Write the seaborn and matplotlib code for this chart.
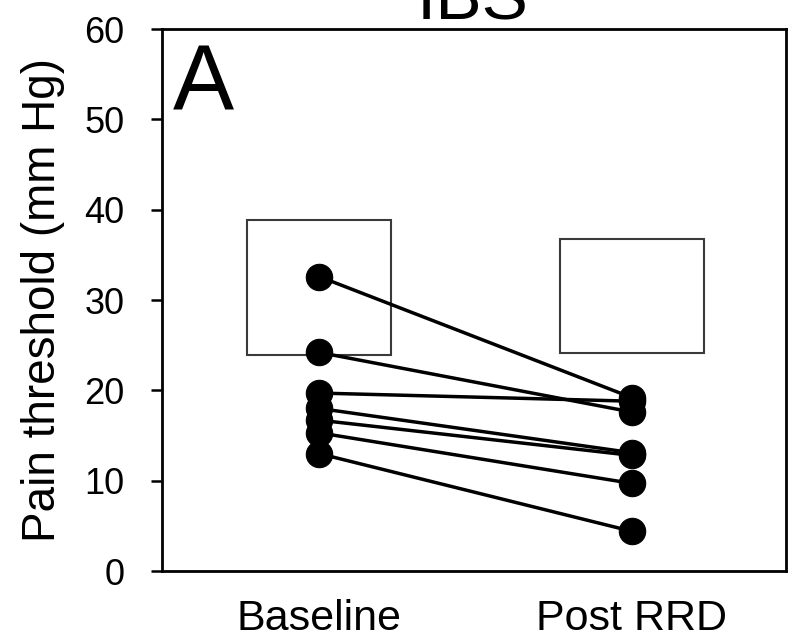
import numpy as np
import pandas as pd
import matplotlib.pyplot as plt
import seaborn as sns
from matplotlib.patches import Rectangle

# ============================================================
# Data
# ============================================================

conditions = ["Baseline", "Post RRD"]

baseline = [32.6, 24.2, 19.7, 18.0, 16.7, 15.3, 13.0]
post_rrd = [19.2, 17.6, 18.8, 13.1, 12.8, 9.7, 4.4]

# box extents (low, high) per condition
box_low = [23.9, 24.1]
box_high = [38.9, 36.7]

yticks = [0, 10, 20, 30, 40, 50, 60]

# ============================================================
# Style
# ============================================================

sns.set_theme(style="white")
plt.rcParams["font.family"] = ["Liberation Sans", "DejaVu Sans"]

# ============================================================
# Long format table
# ============================================================

subjects = list(range(len(baseline)))
df = pd.DataFrame({
    "subject": subjects + subjects,
    "pos": [0] * len(baseline) + [1] * len(post_rrd),
    "threshold": baseline + post_rrd,
})

# ============================================================
# Figure
# ============================================================

fig = plt.figure(figsize=(7.88, 6.38), dpi=100)
ax = fig.add_axes([0.2056, 0.105, 0.7914, 0.8495])

for i in range(len(conditions)):
    ax.add_patch(Rectangle(
        (i - 0.23, box_low[i]),
        0.46,
        box_high[i] - box_low[i],
        fill=False,
        edgecolor="#3a3a3a",
        linewidth=1.5,
        zorder=1,
    ))

sns.lineplot(
    data=df,
    x="pos",
    y="threshold",
    units="subject",
    estimator=None,
    color="black",
    linewidth=2.5,
    marker="o",
    markersize=19,
    markeredgecolor="black",
    markeredgewidth=0.8,
    legend=False,
    ax=ax,
    zorder=3,
)

ax.set_xlim(-0.502, 1.492)
ax.set_ylim(0, 60)
ax.set_yticks(yticks)
ax.set_xticks(range(len(conditions)))
ax.set_xticklabels(conditions)

ax.tick_params(axis="y", which="major", direction="out", length=8,
               width=1.8, pad=19, labelsize=26, color="black",
               labelcolor="black", left=True)
ax.tick_params(axis="x", which="major", length=0, pad=20,
               labelsize=31, labelcolor="black")

for side in ["left", "right", "top", "bottom"]:
    ax.spines[side].set_visible(True)
    ax.spines[side].set_color("black")
    ax.spines[side].set_linewidth(2.0)

ax.set_xlabel("")
ax.set_ylabel("Pain threshold (mm Hg)", fontsize=33, color="black")
ax.yaxis.set_label_coords(-0.155, 0.5)

ax.text(0.018, 0.85, "A", transform=ax.transAxes, fontsize=66,
        ha="left", va="baseline", color="black")

fig.text(0.600, 0.9687, "IBS", fontsize=50, ha="center",
         va="baseline", color="black")

fig.savefig("out.png", dpi=100)
